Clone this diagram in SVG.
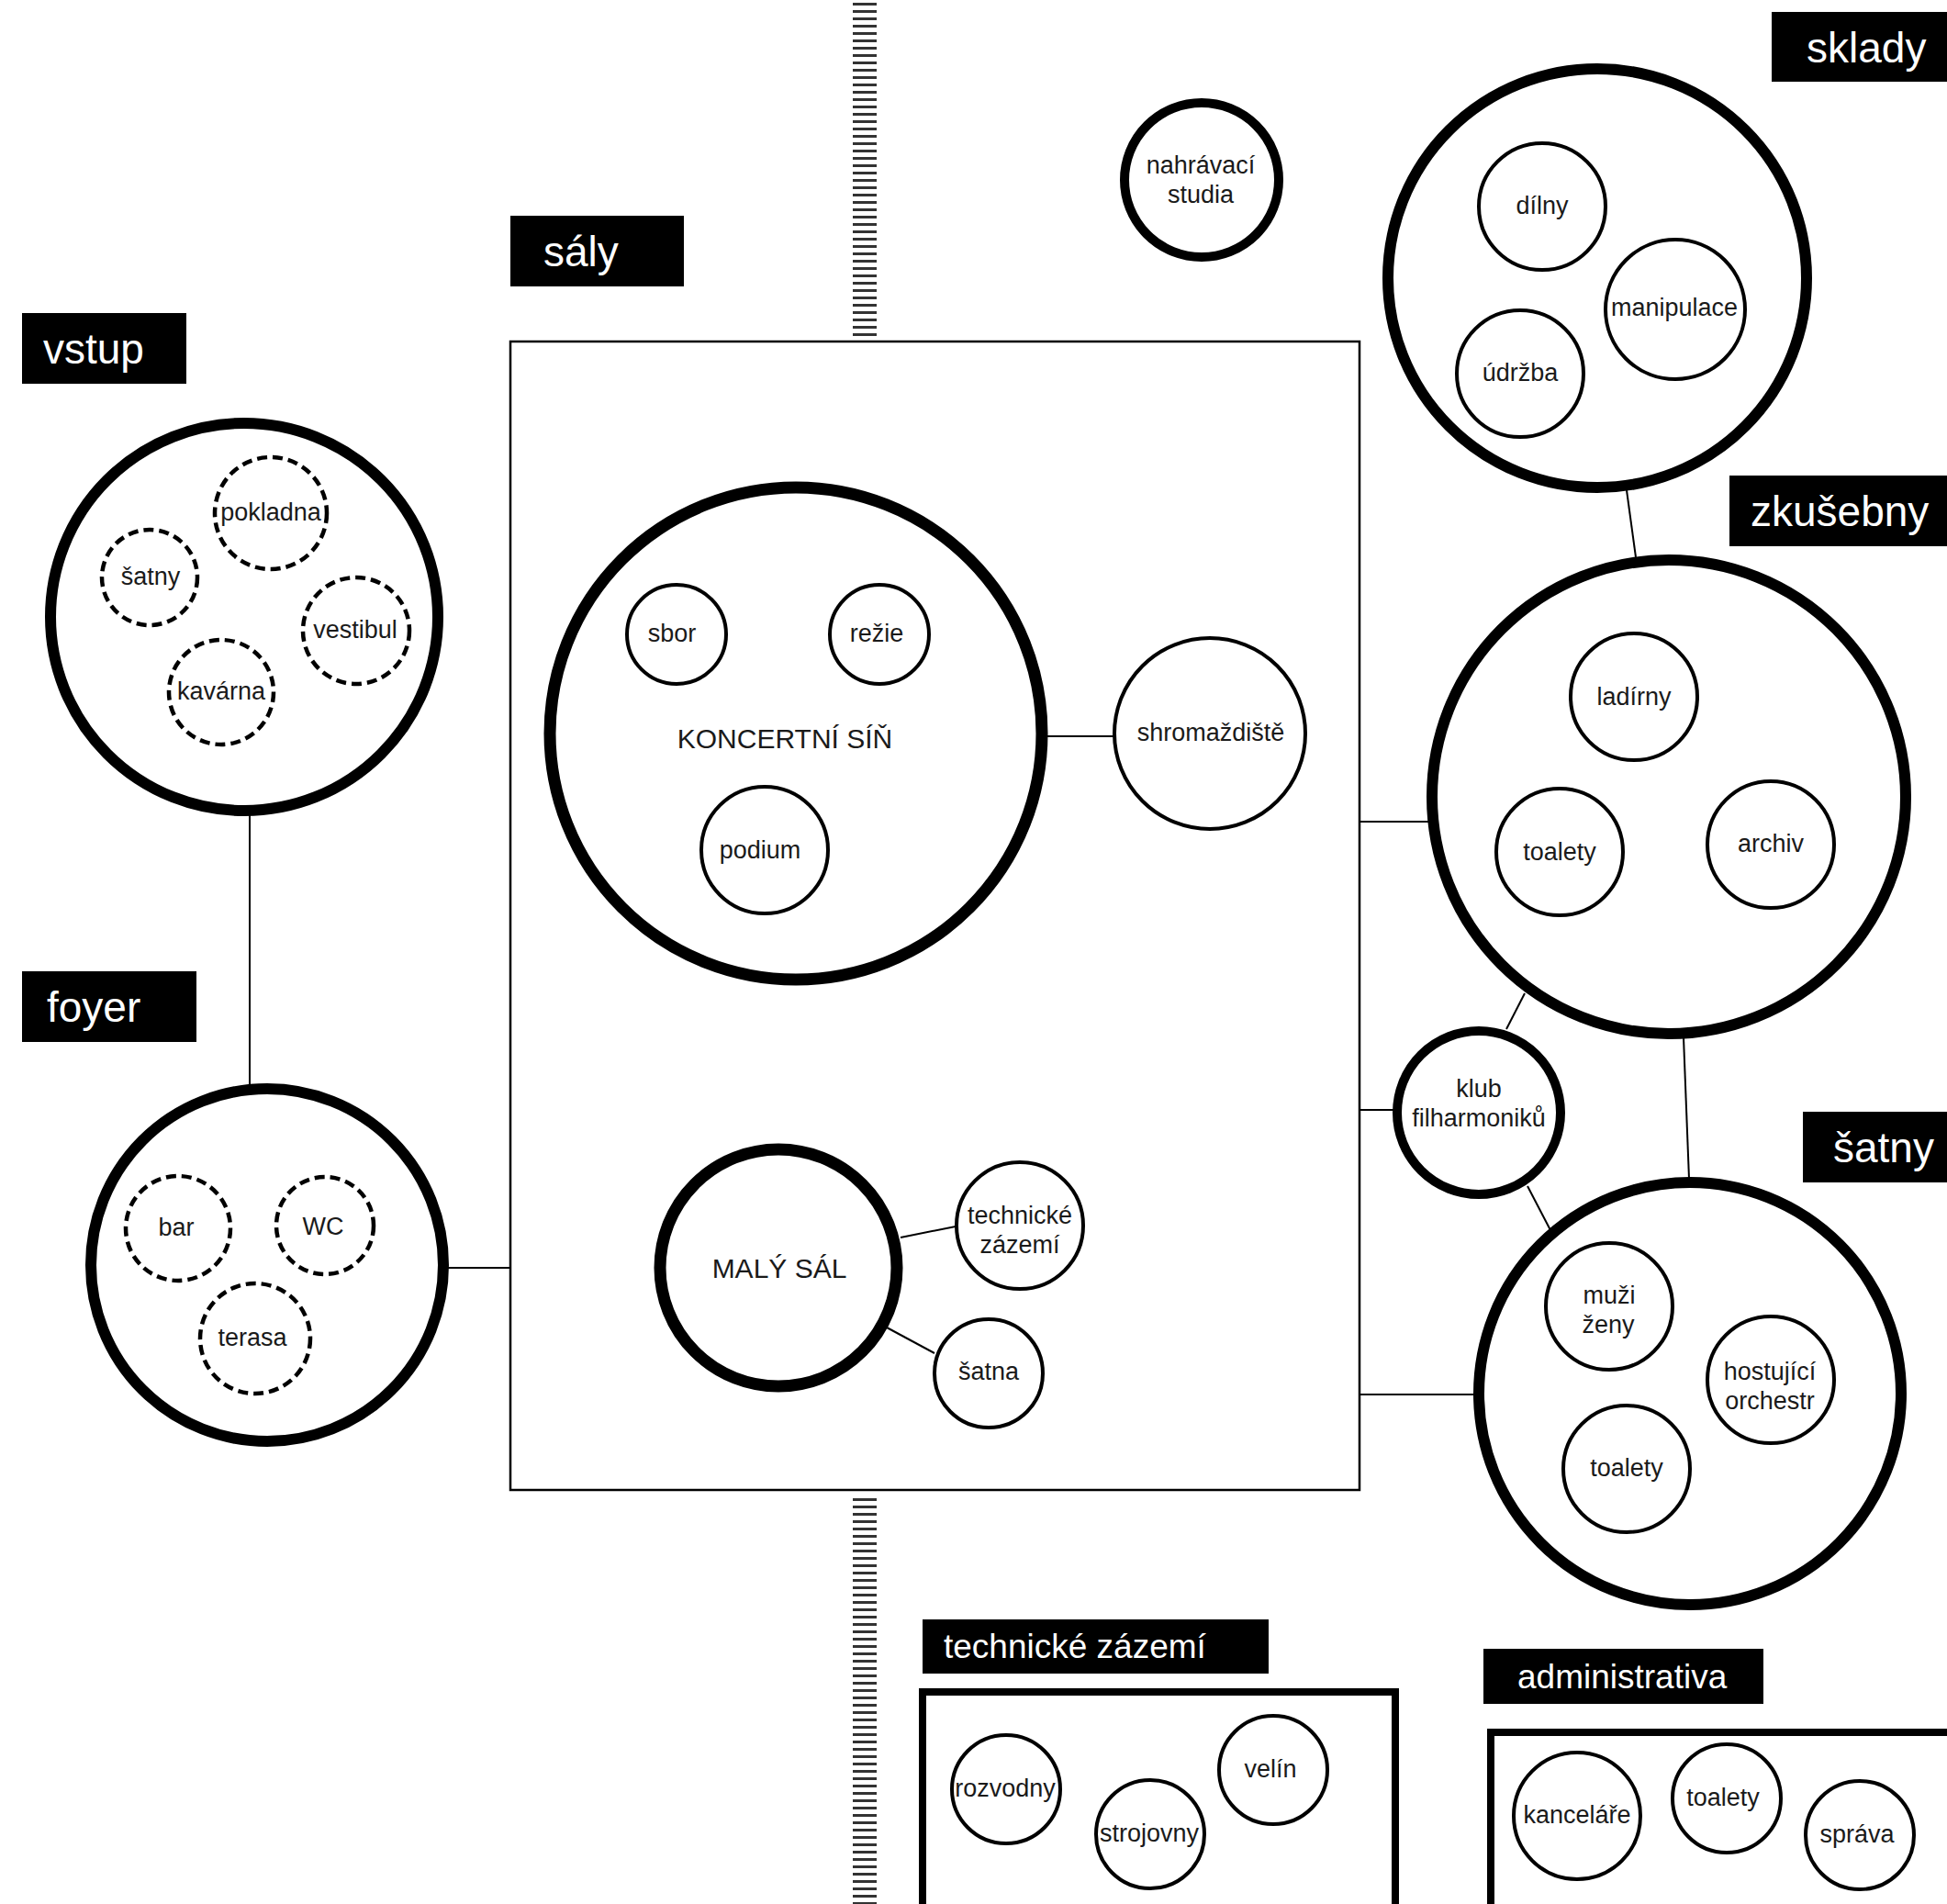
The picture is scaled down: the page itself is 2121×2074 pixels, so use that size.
<svg xmlns="http://www.w3.org/2000/svg" width="2121" height="2074" viewBox="0 0 2121 2074">
<style>
text{font-family:"Liberation Sans","DejaVu Sans",sans-serif;fill:#1a1a1a;text-anchor:middle}
.lbl{fill:#fff;text-anchor:start;font-size:46px}
.lbls{fill:#fff;text-anchor:start;font-size:37px}
.box{fill:#000}
.big{fill:#fff;stroke:#000;stroke-width:12}
.bigger{fill:#fff;stroke:#000;stroke-width:13}
.mid{fill:#fff;stroke:#000;stroke-width:10}
.thin{fill:#fff;stroke:#000;stroke-width:4}
.dash{fill:#fff;stroke:#000;stroke-width:4.5;stroke-dasharray:11 6}
.s{font-size:27px}
.cap{font-size:30px}
.conn{stroke:#000;stroke-width:2;fill:none}
.frame{fill:none;stroke:#000;stroke-width:2.5}
.tframe{fill:none;stroke:#000;stroke-width:8}
.hatch{stroke:#333;stroke-width:26;stroke-dasharray:3 5}
</style>
<rect width="2121" height="2074" fill="#fff"/>

<g id="hatch">
<line class="hatch" x1="942" y1="3" x2="942" y2="366"/>
<line class="hatch" x1="942" y1="1632" x2="942" y2="2074"/>
</g>

<g id="saly-frame">
<rect class="frame" x="556" y="372" width="925" height="1251"/>
</g>

<g id="connectors">
<line class="conn" x1="272" y1="886" x2="272" y2="1183"/>
<line class="conn" x1="486" y1="1381" x2="556" y2="1381"/>
<line class="conn" x1="1140" y1="802" x2="1213" y2="802"/>
<line class="conn" x1="981" y1="1348" x2="1041" y2="1336"/>
<line class="conn" x1="966" y1="1446" x2="1018" y2="1474"/>
<line class="conn" x1="1772" y1="534" x2="1782" y2="607"/>
<line class="conn" x1="1481" y1="895" x2="1556" y2="895"/>
<line class="conn" x1="1481" y1="1209" x2="1518" y2="1209"/>
<line class="conn" x1="1661" y1="1082" x2="1641" y2="1121"/>
<line class="conn" x1="1664" y1="1292" x2="1689" y2="1340"/>
<line class="conn" x1="1834" y1="1130" x2="1840" y2="1284"/>
<line class="conn" x1="1481" y1="1519" x2="1607" y2="1519"/>
</g>

<g id="label-sklady"><rect class="box" x="1930" y="13" width="191" height="76"/><text class="lbl" x="1968" y="68">sklady</text></g>
<g id="label-saly"><rect class="box" x="556" y="235" width="189" height="77"/><text class="lbl" x="592" y="290">sály</text></g>
<g id="label-vstup"><rect class="box" x="24" y="341" width="179" height="77"/><text class="lbl" x="47" y="396">vstup</text></g>
<g id="label-zkusebny"><rect class="box" x="1884" y="518" width="237" height="77"/><text class="lbl" x="1907" y="573">zkušebny</text></g>
<g id="label-foyer"><rect class="box" x="24" y="1058" width="190" height="77"/><text class="lbl" x="51" y="1113">foyer</text></g>
<g id="label-satny"><rect class="box" x="1964" y="1211" width="157" height="77"/><text class="lbl" x="1997" y="1266">šatny</text></g>
<g id="label-technicke"><rect class="box" x="1005" y="1764" width="377" height="59"/><text class="lbls" x="1028" y="1806">technické zázemí</text></g>
<g id="label-admin"><rect class="box" x="1616" y="1796" width="305" height="60"/><text class="lbls" x="1653" y="1839">administrativa</text></g>

<g id="vstup">
<circle class="big" cx="266" cy="672" r="211"/>
<circle class="dash" cx="295" cy="559" r="61"/><text class="s" x="295" y="567">pokladna</text>
<circle class="dash" cx="163" cy="629" r="52"/><text class="s" x="164" y="637">šatny</text>
<circle class="dash" cx="388" cy="687" r="58"/><text class="s" x="387" y="695">vestibul</text>
<circle class="dash" cx="241" cy="754" r="57"/><text class="s" x="241" y="762">kavárna</text>
</g>

<g id="foyer">
<circle class="big" cx="291" cy="1378" r="192"/>
<circle class="dash" cx="194" cy="1338" r="57"/><text class="s" x="192" y="1346">bar</text>
<circle class="dash" cx="354" cy="1335" r="53"/><text class="s" x="352" y="1345">WC</text>
<circle class="dash" cx="278" cy="1458" r="60"/><text class="s" x="275" y="1466">terasa</text>
</g>

<g id="koncertni-sin">
<circle class="bigger" cx="867" cy="799" r="268"/>
<circle class="thin" cx="737" cy="691" r="54"/><text class="s" x="732" y="699">sbor</text>
<circle class="thin" cx="958" cy="691" r="54"/><text class="s" x="955" y="699">režie</text>
<circle class="thin" cx="833" cy="926" r="69"/><text class="s" x="828" y="935">podium</text>
<text class="cap" x="855" y="815">KONCERTNÍ SÍŇ</text>
</g>

<g id="shromazdiste">
<circle class="thin" cx="1318" cy="799" r="104"/><text class="s" x="1319" y="807">shromaždiště</text>
</g>

<g id="maly-sal">
<circle class="bigger" cx="848" cy="1381" r="129"/>
<text class="cap" x="849" y="1392">MALÝ SÁL</text>
</g>
<g id="technicke-zazemi-small">
<circle class="thin" cx="1111" cy="1335" r="69"/>
<text class="s" x="1111" y="1333">technické</text><text class="s" x="1111" y="1365">zázemí</text>
</g>
<g id="satna">
<circle class="thin" cx="1077" cy="1496" r="59"/><text class="s" x="1077" y="1503">šatna</text>
</g>

<g id="nahravaci-studia">
<circle class="mid" cx="1309" cy="196" r="84"/>
<text class="s" x="1308" y="189">nahrávací</text><text class="s" x="1308" y="221">studia</text>
</g>

<g id="sklady">
<circle class="big" cx="1740" cy="303" r="228"/>
<circle class="thin" cx="1680" cy="225" r="69"/><text class="s" x="1680" y="233">dílny</text>
<circle class="thin" cx="1825" cy="337" r="76"/><text class="s" x="1824" y="344">manipulace</text>
<circle class="thin" cx="1656" cy="407" r="69"/><text class="s" x="1656" y="415">údržba</text>
</g>

<g id="zkusebny">
<circle class="big" cx="1818" cy="868" r="258"/>
<circle class="thin" cx="1780" cy="759" r="69"/><text class="s" x="1780" y="768">ladírny</text>
<circle class="thin" cx="1699" cy="928" r="69"/><text class="s" x="1699" y="937">toalety</text>
<circle class="thin" cx="1929" cy="920" r="69"/><text class="s" x="1929" y="928">archiv</text>
</g>

<g id="klub">
<circle class="mid" cx="1611" cy="1212" r="89"/>
<text class="s" x="1611" y="1195">klub</text><text class="s" x="1611" y="1227">filharmoniků</text>
</g>

<g id="satny">
<circle class="big" cx="1841" cy="1518" r="230"/>
<circle class="thin" cx="1753" cy="1423" r="69"/><text class="s" x="1753" y="1420">muži</text><text class="s" x="1752" y="1452">ženy</text>
<circle class="thin" cx="1929" cy="1503" r="69"/><text class="s" x="1928" y="1503">hostující</text><text class="s" x="1928" y="1535">orchestr</text>
<circle class="thin" cx="1772" cy="1600" r="69"/><text class="s" x="1772" y="1608">toalety</text>
</g>

<g id="technicke-zazemi">
<rect class="tframe" x="1005" y="1843" width="515" height="260"/>
<circle class="thin" cx="1096" cy="1949" r="59"/><text class="s" x="1095" y="1957">rozvodny</text>
<circle class="thin" cx="1253" cy="1998" r="59"/><text class="s" x="1252" y="2006">strojovny</text>
<circle class="thin" cx="1387" cy="1928" r="59"/><text class="s" x="1384" y="1936">velín</text>
</g>

<g id="administrativa">
<rect class="tframe" x="1624" y="1887" width="560" height="220"/>
<circle class="thin" cx="1718" cy="1978" r="69"/><text class="s" x="1718" y="1986">kanceláře</text>
<circle class="thin" cx="1881" cy="1959" r="59"/><text class="s" x="1877" y="1967">toalety</text>
<circle class="thin" cx="2026" cy="1999" r="59"/><text class="s" x="2023" y="2007">správa</text>
</g>
</svg>
